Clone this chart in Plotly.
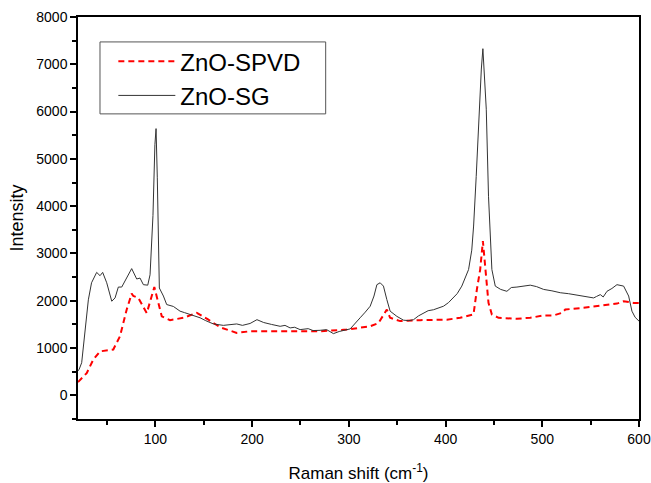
import plotly.graph_objects as go

# ZnO-SG (black solid)
sg_x = [20, 21, 23.8, 27, 30.7, 34, 39.3, 42.8, 45.5, 49.7, 54.9, 58.3, 61.7, 65.2, 68.6, 75.5,
        80.7, 84.1, 87.6, 92.1, 94.5, 97.5, 99.5, 100.7, 102, 104.1, 108.3, 111.7, 118.6, 125.5,
        130, 135.9, 146.2, 152, 160, 170.3, 178, 184.1, 190, 197.9, 205, 212, 220, 229, 234,
        239.3, 244, 249.6, 258, 263, 270.3, 277, 284.1, 290, 301.4, 306, 311.7, 317, 322.1,
        326, 329, 332.4, 335.8, 339.3, 342.7, 349.7, 356.5, 362, 366.9, 372, 377.2, 382,
        387.5, 392, 397.9, 403, 408.2, 412, 416.8, 422, 423.8, 427.1, 429, 431.7, 434.8,
        437, 438.6, 440, 442.1, 444.4, 447.9, 451.4, 457, 463.4, 468, 473.8, 480, 487.6,
        494, 501.4, 510, 518.6, 527, 535.9, 545, 553.1, 556, 560, 563, 566.9, 572, 577.2,
        584.1, 589.3, 592.7, 596, 600]
sg_y = [520, 540, 690, 1320, 2020, 2380, 2600, 2530, 2600, 2380, 1990, 2060, 2290, 2290, 2410, 2680,
        2460, 2480, 2340, 2330, 2550, 3800, 5300, 5640, 4600, 2270, 2100, 1920, 1880, 1780,
        1750, 1710, 1640, 1580, 1510, 1480, 1500, 1510, 1480, 1520, 1600, 1540, 1500, 1460, 1480,
        1426, 1440, 1390, 1410, 1370, 1375, 1390, 1305, 1350, 1405, 1500, 1640, 1760, 1885,
        2100, 2340, 2380, 2310, 2025, 1780, 1670, 1590, 1580, 1600, 1680, 1745, 1790,
        1810, 1840, 1885, 1960, 2060, 2150, 2310, 2590, 2660, 3070, 3580, 4630, 6050,
        6900, 7330, 6900, 6050, 4210, 2660, 2310, 2240, 2200, 2280, 2290, 2310, 2330,
        2300, 2240, 2210, 2170, 2150, 2120, 2090, 2060, 2090, 2130, 2080, 2200, 2260, 2340,
        2310, 2100, 1780, 1650, 1570]

# ZnO-SPVD (red dashed)
spvd_x = [20, 21, 29, 35.8, 42.8, 56.5, 63.4, 70.3, 75.5, 77.2, 82.4, 91.1, 98.9, 106.6, 115.2,
          129, 142.8, 154.8, 166.9, 184.1, 197.9, 229, 249.6, 270.3, 297.9, 322.1, 330.7,
          339.3, 342.7, 353, 373.8, 401.3, 415.1, 425.5, 428.9, 432.4, 435.8, 438.6, 444.4,
          447.9, 454.8, 473.8, 487.6, 501.4, 511.7, 520.4, 523.8, 542.7, 563.4, 577.2, 584.1,
          594.5, 600]
spvd_y = [280, 300, 470, 755, 930, 970, 1250, 1810, 2150, 2100, 2060, 1740, 2290, 1670, 1590,
          1640, 1745, 1600, 1440, 1320, 1355, 1355, 1355, 1355, 1390, 1460, 1530,
          1815, 1640, 1570, 1590, 1600, 1640, 1695, 1710, 2240, 2660, 3260, 1955,
          1710, 1640, 1620, 1640, 1690, 1690, 1745, 1815, 1850, 1905, 1940, 1990,
          1955, 1955]

x_ticks = [100, 200, 300, 400, 500, 600]
y_ticks = [0, 1000, 2000, 3000, 4000, 5000, 6000, 7000, 8000]

fig = go.Figure()
fig.add_trace(go.Scatter(x=spvd_x, y=spvd_y, mode="lines", name="ZnO-SPVD",
                         line=dict(color="#ff0000", width=2, dash="6px,4px")))
fig.add_trace(go.Scatter(x=sg_x, y=sg_y, mode="lines", name="ZnO-SG",
                         line=dict(color="#333333", width=1)))

font_family = "Liberation Sans, Arial, sans-serif"
fig.update_layout(
    width=651, height=483,
    margin=dict(l=78, r=12, t=17, b=64),
    paper_bgcolor="white", plot_bgcolor="white",
    font=dict(family=font_family, color="black"),
    showlegend=True,
    legend=dict(x=0.063, y=0.945, xanchor="left", yanchor="top",
                borderwidth=0, bgcolor="rgba(0,0,0,0)",
                font=dict(size=24, family=font_family, color="black"),
                itemwidth=57, tracegroupgap=0),
    shapes=[dict(type="rect", xref="paper", yref="paper",
                 x0=0.0392, x1=0.4415, y0=0.759, y1=0.938,
                 line=dict(color="#555555", width=1), fillcolor="rgba(0,0,0,0)")],
)
fig.update_xaxes(range=[20, 600], tickvals=x_ticks, ticktext=[str(v) for v in x_ticks],
                 automargin=False,
                 ticks="outside", ticklen=6, tickwidth=1.5, tickcolor="black",
                 showline=True, linewidth=1.5, linecolor="black", mirror=True,
                 showgrid=False, zeroline=False,
                 tickfont=dict(size=14, family=font_family, color="black"),
                 minor=dict(tickvals=[50, 150, 250, 350, 450, 550], ticks="outside",
                            ticklen=4, tickwidth=1.5, tickcolor="black", showgrid=False),
                 title=dict(text="Raman shift (cm<sup>-1</sup>)", font=dict(size=17, family=font_family),
                            standoff=24))
fig.update_yaxes(range=[-500, 8000], tickvals=y_ticks, ticktext=[str(v) for v in y_ticks],
                 automargin=False,
                 ticks="outside", ticklen=6, tickwidth=1.5, tickcolor="black",
                 showline=True, linewidth=1.5, linecolor="black", mirror=True,
                 showgrid=False, zeroline=False,
                 tickfont=dict(size=14, family=font_family, color="black"),
                 minor=dict(tickvals=[-500, 500, 1500, 2500, 3500, 4500, 5500, 6500, 7500],
                            ticks="outside", ticklen=4, tickwidth=1.5, tickcolor="black", showgrid=False),
                 title=dict(text="Intensity", font=dict(size=18, family=font_family), standoff=8))

fig.write_html("out.html")
